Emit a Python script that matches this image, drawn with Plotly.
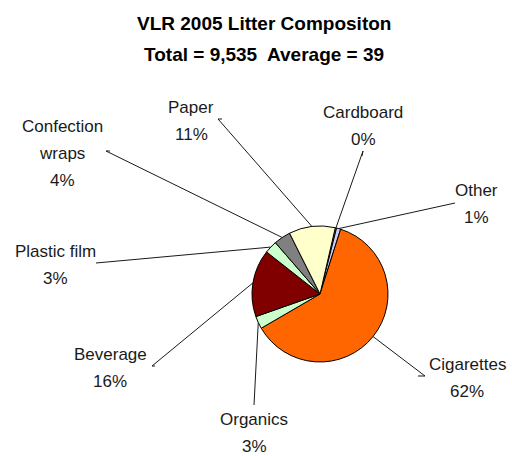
import math
import plotly.graph_objects as go

# data (clockwise from the top, Excel order)
categories = ["Cardboard", "Other", "Cigarettes", "Organics", "Beverage",
              "Plastic film", "Confection wraps", "Paper"]
label_lines = [["Cardboard"], ["Other"], ["Cigarettes"], ["Organics"], ["Beverage"],
               ["Plastic film"], ["Confection", "wraps"], ["Paper"]]
counts = [29, 95, 5883, 286, 1526, 286, 381, 1049]
colors = ["#99CCFF", "#CCCCFF", "#FF6600", "#CCFFCC", "#800000",
          "#CCFFCC", "#808080", "#FFFFCC"]
title_lines = ["VLR 2005 Litter Compositon", "Total = 9,535\u00a0 Average = 39"]

W, H = 512, 456
CX, CY, R = 320, 294, 68
ROTATION = 13
LINE_GAP = 27

# first text line centre of each label and where its leader leaves from (pixels)
label_pos = {
    "Cardboard": (363, 112), "Other": (476, 190), "Cigarettes": (467, 364),
    "Organics": (254, 419), "Beverage": (110, 354), "Plastic film": (55, 251),
    "Confection wraps": (62, 126), "Paper": (191, 107),
}
leader_start = {
    "Cardboard": [(363, 151), (362, 156)], "Other": [(455, 203)],
    "Cigarettes": [(425, 376), (418, 376)], "Organics": [(254, 405)],
    "Beverage": [(152, 366), (155, 366)], "Plastic film": [(96, 263)],
    "Confection wraps": [(106, 151), (110, 151)], "Paper": [(218, 119), (222, 119)],
}

FONT = "Liberation Sans Narrow, Arial Narrow, Liberation Sans, Arial, sans-serif"


def px(x):
    return x / W


def py(y):
    return 1 - y / H


fig = go.Figure(go.Pie(
    labels=categories,
    values=counts,
    sort=False,
    direction="clockwise",
    rotation=ROTATION,
    marker=dict(colors=colors, line=dict(color="black", width=1)),
    textinfo="none",
    hoverinfo="label+value+percent",
    domain=dict(x=[px(CX - R), px(CX + R)], y=[py(CY + R), py(CY - R)]),
))

total = sum(counts)
annotations = []
shapes = []
cum = 0
for name, lines, v in zip(categories, label_lines, counts):
    mid = ROTATION + (cum + v / 2) / total * 360
    cum += v
    ex = CX + R * math.sin(math.radians(mid))
    ey = CY - R * math.cos(math.radians(mid))
    lx, ly = label_pos[name]
    pct = round(v / total * 100)
    for i, t in enumerate(lines + [f"{pct}%"]):
        annotations.append(dict(
            x=px(lx), y=py(ly + i * LINE_GAP), xref="paper", yref="paper",
            text=t, showarrow=False, xanchor="center", yanchor="middle",
            font=dict(family=FONT, size=17, color="#1a1a1a"),
        ))
    pts = leader_start[name][::-1] + [(ex, ey)]
    path = "M " + " L ".join(f"{px(a)},{py(b)}" for a, b in pts)
    shapes.append(dict(type="path", path=path, xref="paper", yref="paper",
                       line=dict(color="#1a1a1a", width=1)))

for i, t in enumerate(title_lines):
    annotations.append(dict(
        x=px(264), y=py(24 + i * 30), xref="paper", yref="paper",
        text=f"<b>{t}</b>", showarrow=False, xanchor="center", yanchor="middle",
        font=dict(family=FONT, size=19, color="black"),
    ))

fig.update_layout(
    width=W, height=H,
    margin=dict(l=0, r=0, t=0, b=0),
    paper_bgcolor="white",
    plot_bgcolor="white",
    showlegend=False,
    annotations=annotations,
    shapes=shapes,
)

# drop the browser's default 8px body margin so the figure sits at the corner
fig.write_html("out.html", config={"displayModeBar": False},
               post_script="document.body.style.margin='0';")
